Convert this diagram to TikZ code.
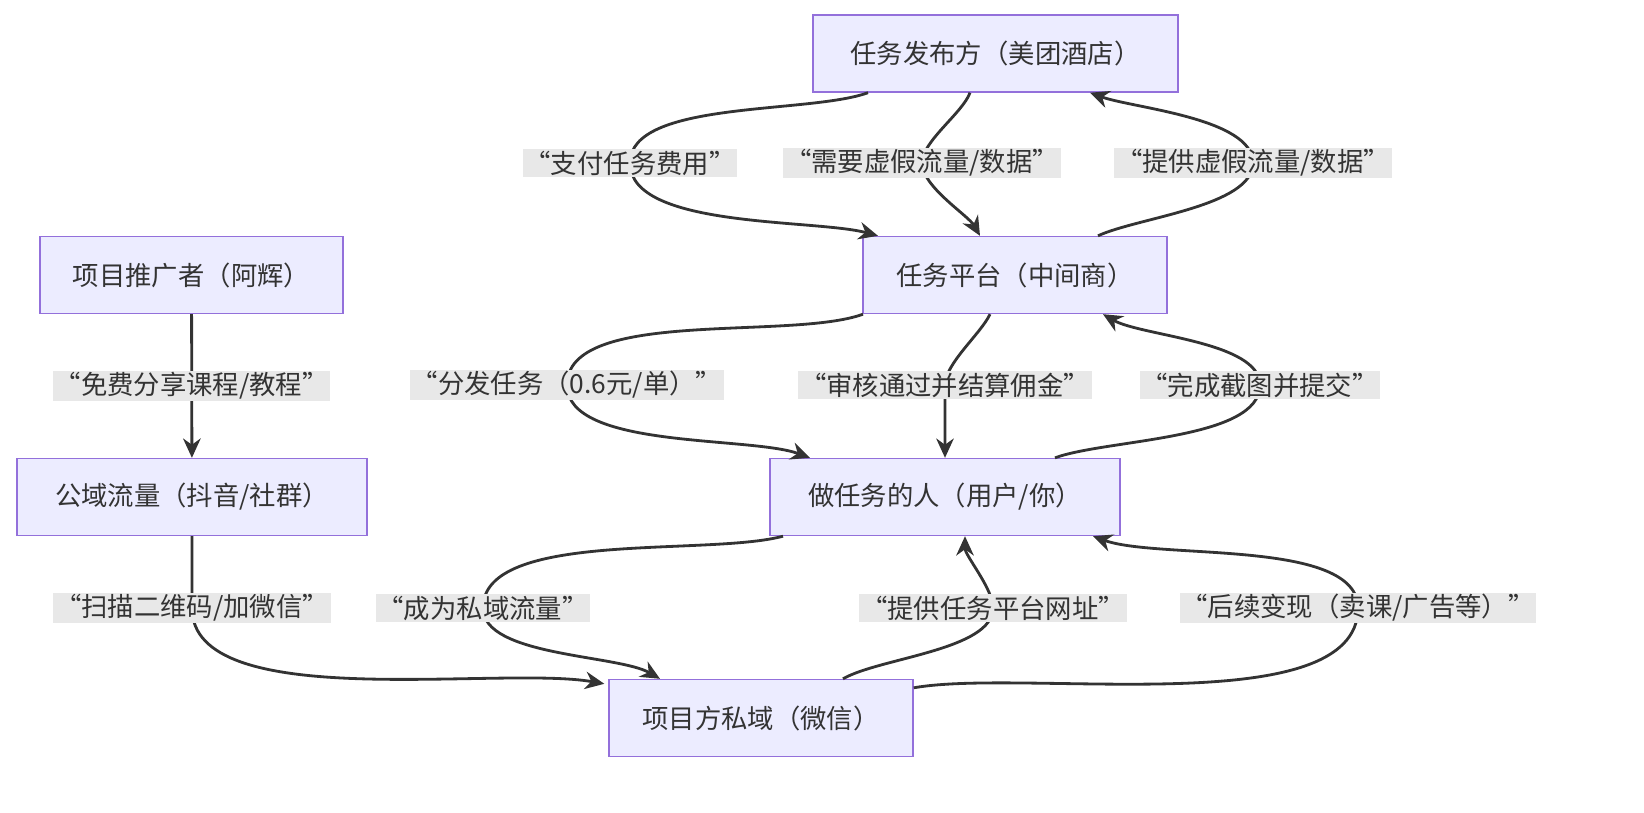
\documentclass[tikz,border=0pt]{standalone}
\usepackage{fontspec}
\setmainfont{Noto Sans CJK SC}
\usetikzlibrary{calc,arrows.meta}
\definecolor{boxfill}{HTML}{ECECFF}
\definecolor{boxline}{HTML}{9370DB}
\definecolor{edgecol}{HTML}{333333}
\definecolor{lblfill}{HTML}{E8E8E8}
\tikzset{
  box/.style={draw=boxline, fill=boxfill, line width=0.8pt, minimum height=1.54cm,
    font=\fontsize{15}{18}\selectfont, text=edgecol},
  edge/.style={draw=edgecol, line width=1.6pt, looseness=0.65, -{Stealth[length=11pt,width=10pt]}},
  lbl/.style={fill=lblfill, inner sep=1pt, font=\fontsize{15}{18}\selectfont, text=edgecol}
}
\begin{document}
\begin{tikzpicture}[x=0.02cm, y=-0.02cm]
  \useasboundingbox (0,0) rectangle (1644,812);

  % nodes
  \node[box, minimum width=7.3cm] (pub) at (995.5,53.5) {任务发布方（美团酒店）};
  \node[box, minimum width=6.08cm] (plat) at (1015,275) {任务平台（中间商）};
  \node[box, minimum width=6.06cm] (promo) at (191.5,275) {项目推广者（阿辉）};
  \node[box, minimum width=7cm] (public) at (192,497) {公域流量（抖音/社群）};
  \node[box, minimum width=7cm] (user) at (945,497) {做任务的人（用户/你）};
  \node[box, minimum width=6.08cm] (priv) at (761,718) {项目方私域（微信）};

  % publisher <-> platform
  \draw[edge] ($(pub.south)+(-127.5,0)$) to[out=200,in=90] node[pos=1,lbl]{“支付任务费用”} (630,163)
    to[out=-90,in=165] ($(plat.north)+(-137,0)$);
  \draw[edge] ($(pub.south)+(-25.5,0)$) to[out=-110,in=90] node[pos=1,lbl]{“需要虚假流量/数据”} (922,163)
    to[out=-90,in=120] ($(plat.north)+(-35,0)$);
  \draw[edge] ($(plat.north)+(83,0)$) to[out=25,in=-90] node[pos=1,lbl]{“提供虚假流量/数据”} (1253,163)
    to[out=90,in=-20] ($(pub.south)+(94.5,0)$);

  % promoter -> public
  \draw[edge] (promo) -- node[lbl]{“免费分享课程/教程”} (public);

  % platform <-> user
  \draw[edge] ($(plat.south)+(-152,0)$) to[out=200,in=90] node[pos=1,lbl]{“分发任务（0.6元/单）”} (567,385)
    to[out=-90,in=160] ($(user.north)+(-135,0)$);
  \draw[edge] ($(plat.south)+(-25,0)$) to[out=-115,in=90] node[pos=1,lbl]{“审核通过并结算佣金”} (945,385)
    to[out=-90,in=90] (user.north);
  \draw[edge] ($(user.north)+(110,0)$) to[out=20,in=-90] node[pos=1,lbl]{“完成截图并提交”} (1260,385)
    to[out=90,in=-30] ($(plat.south)+(88,0)$);

  % to private domain
  \draw[edge] (public.south) to[out=-90,in=90] node[pos=1,lbl]{“扫描二维码/加微信”} (192,608)
    to[out=-90,in=170] ($(priv.north west)+(-4,5)$);
  \draw[edge] ($(user.south)+(-162,0)$) to[out=195,in=90] node[pos=1,lbl]{“成为私域流量”} (483,608)
    to[out=-90,in=150] ($(priv.north)+(-101,0)$);
  \draw[edge] ($(priv.north)+(82,0)$) to[out=30,in=-90] node[pos=1,lbl]{“提供任务平台网址”} (993,608)
    to[out=90,in=-90] ($(user.south)+(20,0)$);
  \draw[edge] ($(priv.north east)+(0,9)$) to[out=10,in=-90] node[pos=1,lbl]{“后续变现（卖课/广告等）”} (1358,608)
    to[out=90,in=-20] ($(user.south)+(148,0)$);
\end{tikzpicture}
\end{document}
